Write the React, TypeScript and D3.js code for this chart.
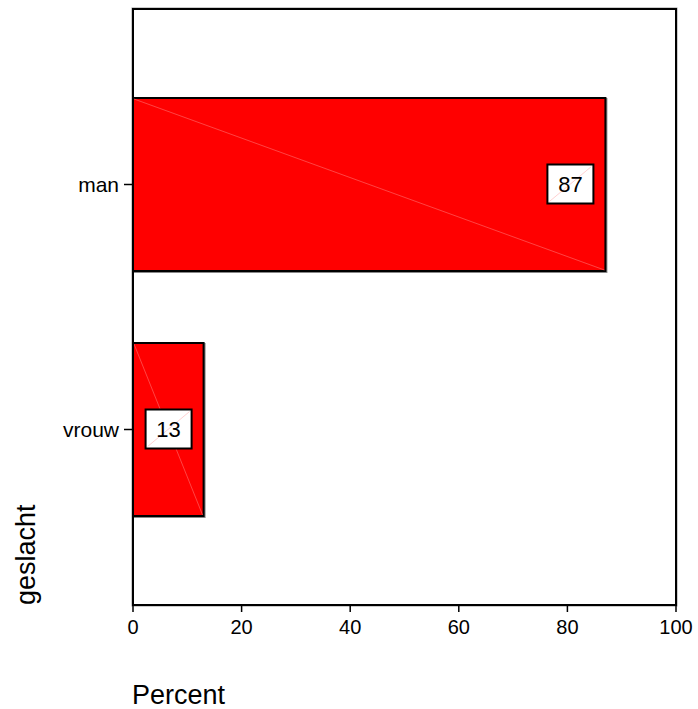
import React from "react";
import * as d3 from "d3";

const categories = ["man", "vrouw"];
const percents = [87, 13];
const xTicks = [0, 20, 40, 60, 80, 100];
const xTitle = "Percent";
const yTitle = "geslacht";

const W = 698;
const H = 709;
const left = 133;
const right = 676;
const top = 9;
const bottom = 605;
const font = "Arial, 'Liberation Sans', Helvetica, sans-serif";

export default function App() {
  const x = d3.scaleLinear().domain([0, 100]).range([left, right]);
  const y = d3.scalePoint<string>().domain(categories).range([184.5, 429.5]);
  const barH = 173;
  const boxW = 46;
  const boxH = 39;

  return (
    <div style={{ position: "absolute", left: 0, top: 0 }}>
      <svg width={W} height={H} style={{ display: "block", background: "#fff" }}>
        {/* frame */}
        <rect x={left} y={top} width={right - left} height={bottom - top} fill="#fff" stroke="#999" strokeWidth={3} />
        <rect x={left} y={top} width={right - left} height={bottom - top} fill="#fff" stroke="#000" strokeWidth={2} />

        {/* bars */}
        {categories.map((c, i) => {
          const yc = y(c)!;
          const y0 = yc - barH / 2;
          const x1 = x(percents[i]);
          return (
            <g key={c}>
              <rect x={left + 1} y={y0 + 1} width={x1 - left} height={barH} fill="none" stroke="#888" strokeWidth={2} />
              <rect x={left} y={y0} width={x1 - left} height={barH} fill="#ff0000" stroke="#000" strokeWidth={2} />
              <line x1={left + 1} y1={y0 + 1} x2={x1 - 1} y2={y0 + barH - 1} stroke="#ff7070" strokeWidth={0.6} />
            </g>
          );
        })}

        {/* value labels */}
        {categories.map((c, i) => {
          const yc = y(c)!;
          const x1 = x(percents[i]);
          const bx = x1 - 12 - boxW;
          const by = yc - boxH / 2 - 0.5;
          return (
            <g key={c + "-lbl"}>
              <rect x={bx} y={by} width={boxW} height={boxH} fill="#fff" stroke="#000" strokeWidth={2} />
              <line x1={bx + 2} y1={by + boxH - 2} x2={bx + boxW - 2} y2={by + 2} stroke="#ffb0b0" strokeWidth={0.6} />
              <text x={bx + boxW / 2} y={by + boxH / 2 + 8} textAnchor="middle" fontFamily={font} fontSize={22} fill="#000">
                {percents[i]}
              </text>
            </g>
          );
        })}

        {/* left axis re-draw on top */}
        <line x1={left} y1={top} x2={left} y2={bottom} stroke="#000" strokeWidth={2} />

        {/* category ticks and labels */}
        {categories.map((c) => {
          const yc = y(c)!;
          return (
            <g key={c + "-tick"}>
              <line x1={124} y1={yc} x2={left} y2={yc} stroke="#000" strokeWidth={1.5} />
              <text x={119} y={yc + 7} textAnchor="end" fontFamily={font} fontSize={21} fill="#000">
                {c}
              </text>
            </g>
          );
        })}

        {/* x ticks */}
        {xTicks.map((t) => (
          <g key={t}>
            <line x1={x(t)} y1={bottom} x2={x(t)} y2={bottom + 7} stroke="#000" strokeWidth={1.5} />
            <text x={x(t)} y={634} textAnchor="middle" fontFamily={font} fontSize={20} fill="#000">
              {t}
            </text>
          </g>
        ))}

        {/* titles */}
        <text x={132} y={704} fontFamily={font} fontSize={27} fill="#000">
          {xTitle}
        </text>
        <text transform="translate(35,605) rotate(-90)" textAnchor="start" fontFamily={font} fontSize={27} fill="#000">
          {yTitle}
        </text>
      </svg>
    </div>
  );
}
